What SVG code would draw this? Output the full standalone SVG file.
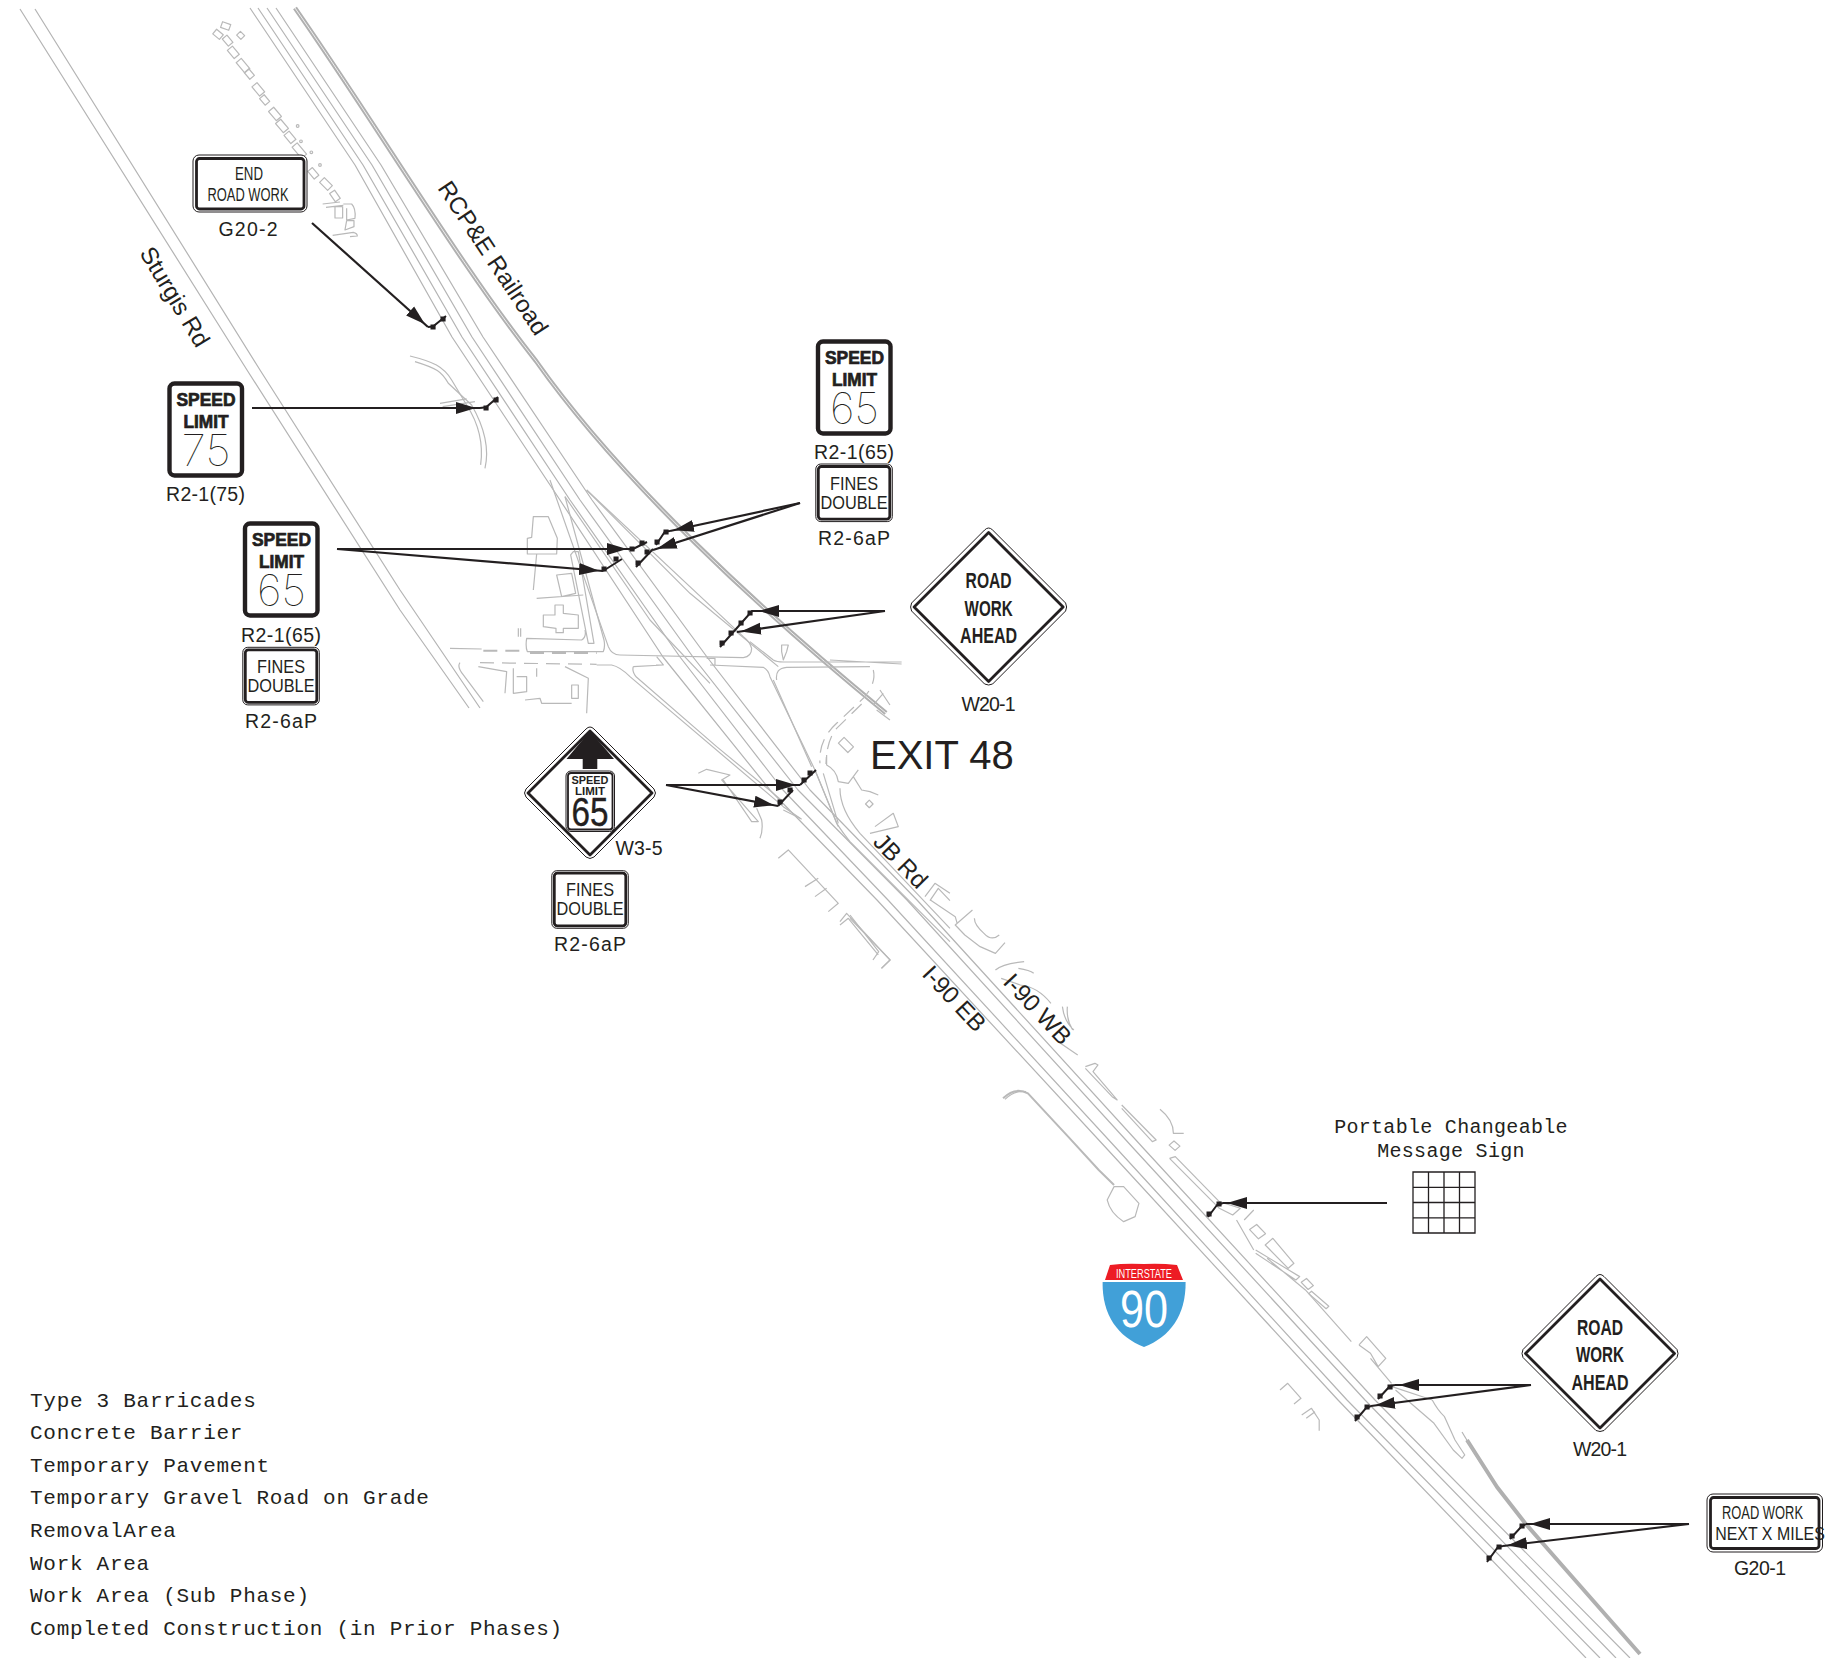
<svg xmlns="http://www.w3.org/2000/svg" width="1828" height="1658" viewBox="0 0 1828 1658">
<style>
text{fill:#231f20;font-family:"Liberation Sans",Arial,sans-serif}
.g{fill:none;stroke:#b9b9b9;stroke-width:1.2;stroke-linejoin:round;vector-effect:non-scaling-stroke}
.g *{vector-effect:non-scaling-stroke}
.main{fill:none;stroke:#b4b4b4;stroke-width:1.2;stroke-linejoin:round}
.d{stroke-dasharray:14 8}
.rail{fill:none;stroke:#b0b0b0;stroke-width:4.600;stroke-linejoin:round}
.railc{fill:none;stroke:#fff;stroke-width:.8;stroke-linejoin:round}
.rails{fill:none;stroke:#b0b0b0;stroke-width:4;stroke-linejoin:round}
.arr{fill:none;stroke:#231f20;stroke-width:2.2;marker-end:url(#ah)}
.bar{fill:none;stroke:#231f20;stroke-width:2}
.pad{fill:none;stroke:#231f20;stroke-width:5;stroke-linecap:square}
.lbl{font-size:19.500px;text-anchor:middle}
.leg{font-family:"Liberation Mono",monospace;font-size:21px;letter-spacing:.72px}
.cad{font-size:19px;text-anchor:middle}
.cadb{font-size:22px;font-weight:700;text-anchor:middle}
.bold{font-weight:700;font-size:17.500px;text-anchor:middle;stroke:#231f20;stroke-width:.7}
.thin{font-family:Inter,"Liberation Sans",sans-serif;font-weight:100;font-size:44px;text-anchor:middle}
.rd{font-size:24px}
.o1{fill:#fff;stroke:#231f20;stroke-width:1}
.o2{fill:none;stroke:#231f20;stroke-width:2.8}
.o3{fill:#fff;stroke:#231f20;stroke-width:4.4}
.bg{fill:none;stroke:#231f20;stroke-width:1.3}
</style>
<defs>
<marker id="ah" markerUnits="userSpaceOnUse" markerWidth="26" markerHeight="14" refX="24" refY="7" orient="auto"><path d="M0,1 L20,7 L0,13 Z" fill="#231f20"/></marker>
<g id="spd"><rect class="o3" x="2" y="2" width="72.500" height="92" rx="5"/><text class="bold" x="38.500" y="24" textLength="59" lengthAdjust="spacingAndGlyphs">SPEED</text><text class="bold" x="38.500" y="46.300" textLength="45" lengthAdjust="spacingAndGlyphs">LIMIT</text></g>
<g id="fines"><rect class="o1" x="0" y="0" width="76.500" height="57.600" rx="5"/><rect class="o2" x="2.500" y="2.500" width="71.500" height="52.600" rx="3"/><text class="cad" x="38.250" y="25.500" textLength="48" lengthAdjust="spacingAndGlyphs">FINES</text><text class="cad" x="38.250" y="44.500" textLength="67" lengthAdjust="spacingAndGlyphs">DOUBLE</text></g>
<g id="rwa"><path class="o1" d="M0,-79 Q2,-79 4,-77 L77,-4 Q79,0 77,4 L4,77 Q0,79 -4,77 L-77,4 Q-79,0 -77,-4 L-4,-77 Q-2,-79 0,-79 Z"/><path class="o2" d="M0,-74.500 L74.500,0 L0,74.500 L-74.500,0 Z" stroke-linejoin="round"/><text class="cadb" x="0" y="-18.700" textLength="46" lengthAdjust="spacingAndGlyphs">ROAD</text><text class="cadb" x="0" y="8.700" textLength="48" lengthAdjust="spacingAndGlyphs">WORK</text><text class="cadb" x="0" y="36.300" textLength="57" lengthAdjust="spacingAndGlyphs">AHEAD</text></g>
</defs>

<g id="linework">
<g id="sturgis-road"><path class="main" d="M20,9 L247,370 L400,610 L469,708"/><path class="main" d="M35,9 L260,370 L400,590 L480,708"/></g>
<g id="railroad">
<path class="rail" d="M295,8 C380,130 460,265 536,361 C620,480 760,610 886,713"/>
<path class="railc" d="M295,8 C380,130 460,265 536,361 C620,480 760,610 886,713"/>
<path class="rails" d="M1467,1440 L1497,1487 L1525,1523 L1560,1563 L1640,1654"/>
<path class="main" d="M1462,1432 L1480,1462"/>
</g>
<g id="i90-mainline">
<path class="main" d="M250,8 L355,165 L452,337 L560,500 L663,657 L770,790 L877,900 L1108,1150 L1338,1400 L1586,1658"/>
<path class="main" d="M258,8 L363,165 L462,337 L570,500 L680,657 L783,790 L888,900 L1118,1150 L1347,1400 L1600,1658"/>
<path class="main" d="M267,8 L372,165 L472,337 L580,500 L693,657 L798,790 L907,900 L1135,1150 L1365,1400 L1616,1658"/>
<path class="main" d="M276,8 L381,165 L483,337 L592,500 L707,657 L810,790 L917,900 L1145,1150 L1375,1400 L1630,1658"/>
</g>
<g id="detail-north" class="g" transform="translate(150 0) scale(.3333)">
<g id="lots">
<rect x="-13" y="-9" width="26" height="18" transform="translate(227 78) rotate(20)"/><rect x="-13" y="-9" width="26" height="18" transform="translate(204 103) rotate(40)"/><rect x="-9" y="-8" width="18" height="16" transform="translate(272 106) rotate(45)"/><rect x="-14" y="-9" width="28" height="18" transform="translate(233 122) rotate(50)"/><rect x="-16" y="-10" width="32" height="20" transform="translate(250 157) rotate(50)"/><rect x="-20" y="-10" width="40" height="20" transform="translate(279 197) rotate(50)"/><rect x="-13" y="-9" width="26" height="18" transform="translate(298 222) rotate(50)"/><rect x="-18" y="-10" width="36" height="20" transform="translate(325 268) rotate(50)"/><rect x="-13" y="-9" width="26" height="18" transform="translate(344 300) rotate(50)"/><rect x="-18" y="-10" width="36" height="20" transform="translate(375 342) rotate(50)"/><rect x="-18" y="-10" width="36" height="20" transform="translate(396 378) rotate(50)"/><rect x="-16" y="-10" width="32" height="20" transform="translate(420 412) rotate(50)"/><rect x="-22" y="-10" width="44" height="20" transform="translate(448 452) rotate(50)"/><rect x="-15" y="-9" width="30" height="18" transform="translate(490 520) rotate(50)"/><rect x="-17" y="-10" width="34" height="20" transform="translate(528 552) rotate(45)"/><rect x="-15" y="-9" width="30" height="18" transform="translate(555 588) rotate(55)"/>
<circle cx="443" cy="378" r="4"/><circle cx="453" cy="424" r="4"/><circle cx="484" cy="457" r="4"/><circle cx="510" cy="495" r="4"/>
</g>
<path d="M518,612 L570,606 M528,622 L580,616 M555,620 H578 V654 H555 Z M580,612 H605 Q618,625 615,655 L590,660 V625 M590,662 L612,662 L612,680 L585,690 L590,662 M548,706 L610,697 Q622,700 622,708 L600,710"/>
<path d="M780,1068 C850,1085 880,1100 905,1140 L950,1215 Q1005,1300 992,1395"/>
<path d="M795,1085 C860,1105 875,1115 895,1150 L965,1215 Q1025,1320 1005,1405"/>
<path d="M870,1210 L950,1197 M878,1220 L975,1205"/>
</g>
<g id="detail-exit" class="g" transform="translate(450 480) scale(.3333)">
<path d="M300,0 L475,500 Q485,525 510,525 L880,533 Q905,530 905,505 Q900,485 880,470 L410,30"/>
<path d="M410,30 L720,340 L985,560"/>
<path d="M345,50 L462,480 Q466,500 460,515 L232,515 Q226,500 230,475 L395,480 Q410,470 405,450"/>
<path d="M345,50 L600,420 L780,610"/>
<path class="d" stroke-width="2" d="M100,512 L210,512 M240,519 L440,519"/>
<path class="d" d="M90,548 L440,553"/>
<path d="M0,505 L95,507 M440,555 L485,555 Q510,560 540,590 L1000,980 L1055,1018"/>
<path d="M550,560 Q545,575 560,592 L800,800 L1000,965 M550,560 L640,555 L620,530 M640,555 L618,555 M780,555 L940,562 Q955,570 960,590 L1095,870 L1165,1040 M770,535 L795,535 L795,555"/>
<path d="M900,485 L970,540 Q980,546 1000,546 L1355,546 M980,600 Q975,565 1010,562 L1260,560 M970,600 L1085,860 M1140,540 L1355,552"/>
<path d="M995,495 L1015,495 L1010,515 L1000,540 L995,515 Z"/>
<path class="d" d="M1270,570 Q1280,610 1240,655 L1160,730 Q1105,780 1110,850"/>
<path class="d" d="M1235,672 L1160,745 Q1130,780 1128,852"/>
<path d="M1290,630 L1320,675 M1300,640 L1270,675 M1280,690 L1320,720"/>
<path d="M1130,825 Q1130,850 1130,855 Q1160,870 1165,905 L1195,910 L1225,870 M1210,890 L1235,930 L1260,935 L1285,945 M1275,1040 L1330,1000 L1345,1040 L1260,1060"/>
<path d="M1095,870 L1160,1030 Q1180,1060 1200,1085 L1500,1385 M1170,925 Q1170,990 1230,1060 L1500,1345 M1120,880 L1165,1030"/>
<rect x="-20" y="-12" width="40" height="24" transform="translate(1188 795) rotate(45)"/><rect x="-8" y="-8" width="16" height="16" transform="translate(1258 972) rotate(45)"/>
<path d="M1425,1250 L1455,1210 L1500,1240 M1440,1262 L1465,1225 L1500,1262"/>
<path d="M250,110 L295,110 L322,175 L320,222 L232,222 L232,175 L245,172 Z M260,222 L250,330 M320,285 L365,280 L377,340 L335,350 Z M260,355 L400,345"/>
<path d="M280,405 L315,405 L315,375 L340,375 L340,400 L385,405 L385,445 L340,445 L340,458 L318,458 L318,445 L280,440 Z"/>
<path d="M362,225 L415,490 L432,490 L385,215 L370,215 Z"/>
<path d="M205,445 V470 M212,445 V470"/>
<path d="M30,548 Q20,560 40,585 L100,665 M85,560 L170,575 L165,640 M190,565 L190,640 L230,635 L230,590 L200,590 M225,660 L270,655 L275,670 L365,670 M345,560 L415,595 L410,700 M260,565 L260,590"/>
<rect x="365" y="615" width="20" height="40"/>
<path d="M745,880 L770,868 L840,885 L815,900 L925,1025 L905,1025 L820,900 M920,985 L935,1020 Q940,1050 930,1075 M1000,990 L1050,1015"/>
<path d="M985,1135 L1015,1110 L1165,1270 L1135,1295 M1065,1220 L1105,1195 M1095,1250 L1130,1225 M1170,1325 L1190,1300 L1320,1440 L1295,1465 M1170,1335 L1195,1315 L1285,1425"/>
</g>
<g id="detail-mid" class="g" transform="translate(850 900) scale(.3827 .3333)">
<path d="M0,45 L75,155 L60,180 M0,55 L105,180 L82,205"/>
<path d="M210,0 L275,50 L280,70 M320,30 L275,75 L300,105 L340,140 L380,160 L405,128 M325,55 Q325,75 350,100 Q370,125 390,105 M380,210 Q400,190 455,185 M440,205 Q470,210 480,220 M395,235 L445,255 Q490,260 525,310 M555,320 Q560,365 585,390 M568,320 Q565,360 582,390 M550,430 L595,465"/>
<path d="M615,500 L640,490 L648,495 L635,515 L698,600 L685,590 L615,505 M710,615 L800,720 L790,725 L710,625 M810,628 Q845,660 845,700 L872,700"/>
<rect x="-11" y="-9" width="22" height="18" transform="translate(848 737) rotate(45)"/>
<path d="M835,775 L850,770 L965,905 L1020,925 L1000,945 L965,925 L835,775 M1030,960 L1055,930 M1010,960 L1040,1020 L1055,1050"/>
<rect x="-18" y="-12" width="36" height="24" transform="translate(1065 995) rotate(50)"/>
<path d="M1105,1015 L1160,1090 L1145,1105 L1085,1035 Z M1060,1050 L1175,1130 L1165,1140 L1060,1060 M1090,1075 L1190,1170 L1310,1325"/>
<rect x="-14" y="-9" width="28" height="18" transform="translate(1195 1152) rotate(50)"/><rect x="-32" y="-5" width="64" height="10" transform="translate(1225 1200) rotate(45)"/>
<path d="M1330,1335 L1350,1310 L1400,1375 L1380,1400 L1360,1360 L1330,1335 M1360,1375 L1415,1450"/>
<path stroke-width="2" d="M400,595 Q430,560 465,580 L570,710 L650,810 L690,855"/>
<path d="M405,598 Q430,570 460,575 M690,860 L672,900 Q680,940 715,965 L745,950 L755,910 L715,860 Z"/>
</g>
<g id="detail-south" class="g" transform="translate(1280 1300) scale(.35 .3333)">
<path d="M320,260 L435,300 M435,300 Q450,330 470,350 L500,420 L528,465 L520,475 L495,450 L440,370 L330,270"/>
<path d="M0,270 L22,250 L60,295 L40,312 M62,345 L90,325 L112,360 L112,392 M75,355 L100,335"/>
</g>
</g>

<g id="connectors">
<path class="arr" d="M312,223 L428,327"/>
<path class="arr" d="M252,408 L480,408"/>
<path class="arr" d="M337,549 L631,549"/>
<path class="arr" d="M337,549 L603,571"/>
<path class="arr" d="M800,503 L670,531"/>
<path class="arr" d="M800,503 L653,550"/>
<path class="arr" d="M885,611 L755,611"/>
<path class="arr" d="M885,611 L737,632"/>
<path class="arr" d="M666,785 L800,785"/>
<path class="arr" d="M666,785 L778,806"/>
<path class="arr" d="M1387,1203 L1223,1203"/>
<path class="arr" d="M1531,1385 L1395,1385"/>
<path class="arr" d="M1531,1385 L1371,1406"/>
<path class="arr" d="M1689,1524 L1526,1524"/>
<path class="arr" d="M1689,1524 L1503,1546"/>
</g>

<g id="barricades">
<path class="bar" d="M428,327 L433,326.500 L446,316 M480,408 L486,407.300 L498,397 M631,550 L647,542 M603,571 L622,559 M670,531 L665,531.500 L656,545 M653,549 L636,567 M756,611 L752,611 L720,647 M800,785 L816,770 M778,806 L793,790 M1223,1203 L1217,1205 L1208,1217 M1395,1385 L1390,1386 L1378,1399 M1371,1406 L1366,1408 L1355,1421 M1526,1524 L1521,1527 L1510,1539 M1503,1546 L1498,1547 L1487,1562"/>
<path class="pad" d="M433,327h.1 M443,319h.1 M486,408h.1 M496,400h.1 M632,549h.1 M642,543h.1 M604,569h.1 M616,559h.1 M666,532h.1 M657,542h.1 M647,552h.1 M638,563h.1 M750,613h.1 M741,623h.1 M731,633h.1 M722,643h.1 M804,780h.1 M810,773h.1 M780,802h.1 M790,790h.1 M1219,1204h.1 M1209,1214h.1 M1390,1387h.1 M1380,1396h.1 M1367,1407h.1 M1357,1417h.1 M1522,1526h.1 M1512,1536h.1 M1499,1547h.1 M1489,1558h.1"/>
</g>

<g id="sign-g20-2"><rect class="o1" x="193" y="155" width="114" height="57" rx="6"/><rect class="o2" x="196.500" y="158.500" width="107.500" height="50.500" rx="3"/><text class="cad" x="249" y="180" textLength="28" lengthAdjust="spacingAndGlyphs">END</text><text class="cad" x="248" y="201" textLength="81" lengthAdjust="spacingAndGlyphs">ROAD WORK</text><text class="lbl" x="248" y="236" textLength="59">G20-2</text></g>
<g id="sign-r2-1-75"><use href="#spd" x="167.500" y="381.500"/><text class="thin" x="206" y="466" textLength="49" lengthAdjust="spacingAndGlyphs">75</text><text class="lbl" x="205.500" y="500.500" textLength="79">R2-1(75)</text></g>
<g id="sign-r2-1-65-west"><use href="#spd" x="243" y="521.500"/><text class="thin" x="281.500" y="606" textLength="49" lengthAdjust="spacingAndGlyphs">65</text><text class="lbl" x="281" y="641.500" textLength="80">R2-1(65)</text></g>
<g id="sign-r2-6ap-west"><use href="#fines" x="242.800" y="647.300"/><text class="lbl" x="281" y="728.300" textLength="72">R2-6aP</text></g>
<g id="sign-r2-1-65-east"><use href="#spd" x="816" y="339.500"/><text class="thin" x="854.500" y="424" textLength="49" lengthAdjust="spacingAndGlyphs">65</text><text class="lbl" x="854" y="459" textLength="80">R2-1(65)</text></g>
<g id="sign-r2-6ap-east"><use href="#fines" x="815.800" y="464"/><text class="lbl" x="854" y="545" textLength="72">R2-6aP</text></g>
<g id="sign-w20-1-north"><use href="#rwa" x="988.600" y="607"/><text class="lbl" x="988.500" y="711" textLength="54">W20-1</text></g>
<g id="sign-w20-1-south"><use href="#rwa" x="1600" y="1353.500"/><text class="lbl" x="1600" y="1455.700" textLength="54">W20-1</text></g>
<g id="sign-w3-5">
<path class="o1" d="M590,727 Q592,727 594,729 L654,789 Q657,793 654,797 L594,857 Q590,860 586,857 L526,797 Q523,793 526,789 L586,729 Q588,727 590,727 Z"/>
<path class="o2" d="M590,731 L652,793 L590,855 L528,793 Z" stroke-linejoin="round"/>
<path d="M590,731 L614,759 H597.300 V769 H582.700 V759 H566.500 Z" fill="#231f20"/>
<rect x="566" y="771" width="48.500" height="60.500" rx="5" fill="#fff" stroke="#231f20" stroke-width="1"/><rect x="568" y="773" width="44.500" height="56.500" rx="3" fill="none" stroke="#231f20" stroke-width="1.800"/>
<text class="cad" x="590" y="783.500" style="font-size:10px;font-weight:700" textLength="37" lengthAdjust="spacingAndGlyphs">SPEED</text><text class="cad" x="590" y="794.500" style="font-size:10px;font-weight:700" textLength="30" lengthAdjust="spacingAndGlyphs">LIMIT</text><text class="cad" x="590" y="826" style="font-size:41px;stroke:#231f20;stroke-width:.4" textLength="37" lengthAdjust="spacingAndGlyphs">65</text>
<text class="lbl" x="639" y="855" textLength="47">W3-5</text></g>
<g id="sign-r2-6ap-mid"><use href="#fines" x="551.800" y="870.700"/><text class="lbl" x="590" y="951" textLength="72">R2-6aP</text></g>
<g id="sign-g20-1"><rect class="o1" x="1707" y="1494" width="115.500" height="58" rx="6"/><rect class="o2" x="1710.500" y="1497.500" width="108.500" height="51" rx="3"/><text class="cad" transform="translate(1762.500 1519.300) scale(.68 1)" x="0" y="0">ROAD WORK</text><text class="cad" transform="translate(1770 1540) scale(.84 1)" x="0" y="0">NEXT X MILES</text><text class="lbl" x="1760" y="1575" textLength="52">G20-1</text></g>
<g id="pcms"><text class="leg" x="1451" y="1133.300" text-anchor="middle" style="font-size:20px;letter-spacing:.3px">Portable Changeable</text><text class="leg" x="1451" y="1156.700" text-anchor="middle" style="font-size:20px;letter-spacing:.3px">Message Sign</text>
<path class="bg" d="M1413,1172 H1475 V1233 H1413 Z M1428.500,1172 V1233 M1444,1172 V1233 M1459.500,1172 V1233 M1413,1187.300 H1475 M1413,1202.500 H1475 M1413,1217.800 H1475"/></g>
<g id="shield-i90"><path d="M1110,1265 Q1125,1263 1144,1264 Q1160,1263 1177,1265 L1183,1280 H1105 Z" fill="#ed1c24"/><path d="M1102.600,1282 H1185.600 C1186,1315 1170,1337 1144,1347 C1118,1337 1102,1315 1102.600,1282 Z" fill="#41a0d8"/><text x="1144" y="1278" text-anchor="middle" style="fill:#fff;font-size:13px" textLength="56" lengthAdjust="spacingAndGlyphs">INTERSTATE</text><text x="1144" y="1326.700" text-anchor="middle" style="fill:#fff;font-size:52px" textLength="48" lengthAdjust="spacingAndGlyphs">90</text></g>
<g id="labels">
<text x="870" y="769" style="font-size:40px">EXIT 48</text>
<text class="rd" transform="translate(437 188) rotate(56.500)">RCP&amp;E Railroad</text>
<text class="rd" transform="translate(139 253) rotate(59)">Sturgis Rd</text>
<text class="rd" transform="translate(872 843) rotate(46)">JB Rd</text>
<text class="rd" transform="translate(921 975) rotate(47)">I-90 EB</text>
<text class="rd" transform="translate(1002 983) rotate(47)">I-90 WB</text>
</g>
<g id="legend">
<text class="leg" x="30" y="1406.700">Type 3 Barricades</text>
<text class="leg" x="30" y="1439.300">Concrete Barrier</text>
<text class="leg" x="30" y="1471.700">Temporary Pavement</text>
<text class="leg" x="30" y="1504.300">Temporary Gravel Road on Grade</text>
<text class="leg" x="30" y="1537.300">RemovalArea</text>
<text class="leg" x="30" y="1570">Work Area</text>
<text class="leg" x="30" y="1602.300">Work Area (Sub Phase)</text>
<text class="leg" x="30" y="1635">Completed Construction (in Prior Phases)</text>
</g>
</svg>
